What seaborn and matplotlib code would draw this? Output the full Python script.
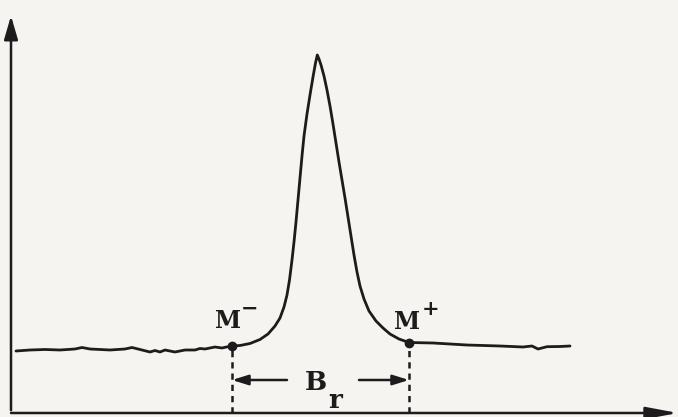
import numpy as np
import pandas as pd
import matplotlib
matplotlib.use("Agg")
import matplotlib.pyplot as plt
import seaborn as sns

# ---- data (x = field position, y = signal height) ----
field = [16, 30, 45, 60, 75, 82, 90, 110, 125, 132, 140, 150, 155, 160, 165, 175,
         185, 195, 200, 205, 215, 222, 231,
         240, 250, 260, 268, 275, 280, 284, 287, 289.5, 292, 294, 296, 298, 300, 302,
         304, 307, 310, 313, 315.5, 317.3, 319, 321, 324, 327, 330, 333, 336, 339,
         342, 345, 348, 351, 354, 357, 360, 364, 369, 376, 383, 390,
         399, 409, 433, 467, 500, 523, 532, 538, 547, 560, 570]
pixel_y = [351, 350, 349.5, 350, 349, 347.5, 349, 350, 349, 347.5, 349.5, 352, 350.5, 352, 350, 352,
           350, 350, 348.5, 349, 347, 348, 346,
           345.5, 343.5, 339.5, 334, 326, 318, 307, 295, 280, 260, 242, 222, 200, 178, 156,
           136, 114, 95, 77, 63, 55, 59, 65, 76, 90, 106, 124, 143, 162,
           180, 198, 217, 236, 255, 272, 286, 299, 311, 321, 328, 334,
           339, 342.5, 343, 345, 346, 347, 346, 349, 346.7, 346.5, 346]
signal = [413 - p for p in pixel_y]

marker_names = ["M", "M"]
marker_signs = ["\u2212", "+"]
marker_field = [232, 409]
marker_signal = [413 - 346, 413 - 342.5]
width_label = "B"
width_sub = "r"

df = pd.DataFrame({"field": field, "signal": signal})

sns.set_theme(style="white")
plt.rcParams["font.family"] = ["DejaVu Serif", "DejaVu Sans"]

paper = "#f5f4f1"
fig = plt.figure(figsize=(6.78, 4.17), dpi=100)
fig.patch.set_facecolor(paper)
ax = fig.add_axes([0, 0, 1, 1])
ax.set_facecolor(paper)
ax.set_xlim(0, 678)
ax.set_ylim(-4, 413)
ax.axis("off")

ink = "#1c1c1c"
sns.lineplot(data=df, x="field", y="signal", ax=ax, color=ink, lw=2.0, sort=False,
             estimator=None)

# axes with arrows
ax.annotate("", xy=(11, 413 - 13), xytext=(11, 0),
            arrowprops=dict(arrowstyle="-|>,head_length=1.2,head_width=0.35", color=ink, lw=1.8))
ax.annotate("", xy=(678, 0), xytext=(11, 0),
            arrowprops=dict(arrowstyle="-|>,head_length=1.6,head_width=0.3", color=ink, lw=1.8,
                            shrinkA=0, shrinkB=0))

# markers and dashed drop lines
for mx, my in zip(marker_field, marker_signal):
    ax.plot([mx, mx], [0, my], color=ink, lw=1.8, ls=(0, (2.5, 2.0)))
    ax.plot([mx], [my], "o", color=ink, ms=6)

label_pos = [(228, 413 - 321), (407, 413 - 322)]
sign_pos = [(250, 413 - 309), (431, 413 - 309)]
for name, sign, (lx, ly), (sx, sy) in zip(marker_names, marker_signs, label_pos, sign_pos):
    ax.text(lx, ly, name, ha="center", va="center", fontsize=17, fontweight="bold", color=ink)
    ax.text(sx, sy, sign, ha="center", va="center", fontsize=15, fontweight="bold", color=ink)

# width arrows
yb = 413 - 380
ax.annotate("", xy=(marker_field[0], yb), xytext=(287, yb),
            arrowprops=dict(arrowstyle="-|>,head_length=0.8,head_width=0.25", color=ink, lw=1.8,
                            shrinkA=0, shrinkB=0))
ax.annotate("", xy=(marker_field[1], yb), xytext=(359, yb),
            arrowprops=dict(arrowstyle="-|>,head_length=0.8,head_width=0.25", color=ink, lw=1.8,
                            shrinkA=0, shrinkB=0))
ax.text(316, 413 - 382, width_label, ha="center", va="center", fontsize=19, fontweight="bold", color=ink)
ax.text(335, 413 - 400, width_sub, ha="center", va="center", fontsize=19, fontweight="bold", color=ink)

fig.savefig("out.png", dpi=100, facecolor=fig.get_facecolor())
